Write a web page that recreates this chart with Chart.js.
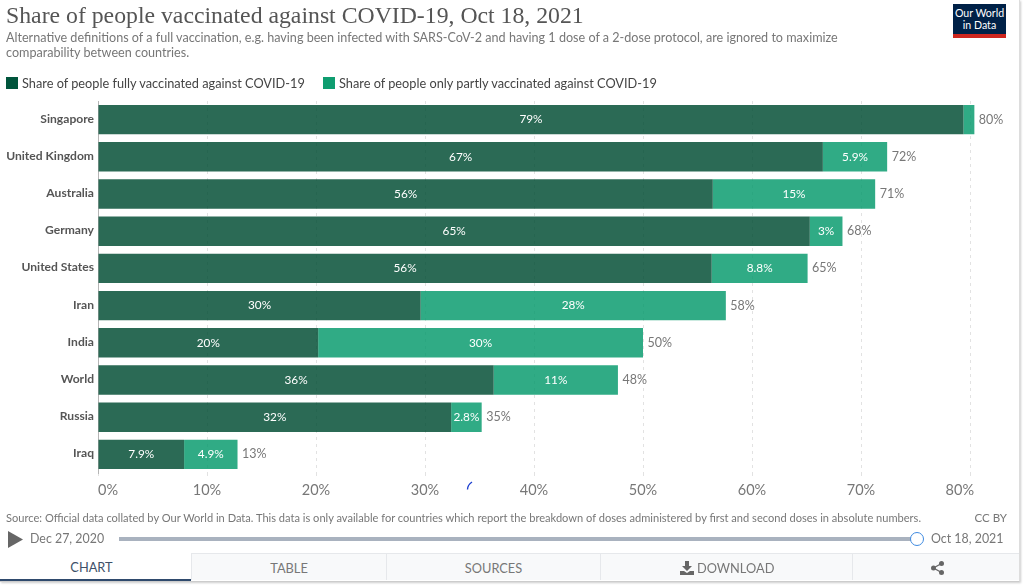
<!DOCTYPE html>
<html>
<head>
<meta charset="utf-8">
<title>Share of people vaccinated against COVID-19</title>
<script src="https://cdn.jsdelivr.net/npm/chart.js@4"></script>
<style>
  html, body { margin: 0; padding: 0; background: #fff; }
  body { width: 1023px; height: 585px; overflow: hidden; position: relative; font-family: Lato, sans-serif; color: #666; }
  #card { position: absolute; left: 0; top: 0; width: 1019px; height: 581px; border-right: 1px solid #ddd; border-bottom: 1px solid #ccc; box-shadow: 1px 1px 2px rgba(0,0,0,.2); }
  canvas { position: absolute; left: 0; top: 0; }
  .txt { position: absolute; white-space: nowrap; }
  #title { left: 6px; top: 0; font: 23.75px/30px "Liberation Serif", serif; color: #555; }
  #subtitle { left: 6px; top: 30px; font-size: 12.6px; line-height: 15px; color: #777; }
  #logo { position: absolute; left: 953px; top: 4px; width: 53px; height: 27px; padding-top: 3px; background: #002147; border-bottom: 4px solid #ce261e; color: #fff; font-size: 10.6px; line-height: 12px; text-align: center; white-space: nowrap; }
  #legend { position: absolute; left: 6px; top: 75px; font-size: 12.75px; line-height: 16px; color: #444; }
  #legend span { position: absolute; top: 0; white-space: nowrap; }
  #legend i { position: absolute; top: 1.5px; width: 12px; height: 12px; }
  #source { left: 6px; top: 511px; font-size: 11.08px; line-height: 14px; color: #777; }
  #ccby { right: 16px; top: 511px; font-size: 11.5px; line-height: 14px; color: #777; }
  #start { left: 30px; top: 531px; font-size: 12.4px; line-height: 16px; color: #777; }
  #end { left: 931px; top: 531px; font-size: 12.4px; line-height: 16px; color: #777; }
  #track { position: absolute; left: 119px; top: 537px; width: 798px; height: 4px; background: #a9b2bf; }
  #handle { position: absolute; left: 910px; top: 532px; width: 12px; height: 12px; border: 1.5px solid #3f8ae0; border-radius: 50%; background: #fff; }
  #tabs { position: absolute; left: 0; top: 553px; width: 1019px; height: 28px; }
  #tabs div { position: absolute; top: 0; height: 27px; line-height: 29px; text-align: center; font-size: 12.8px; color: #777; background: #f8f9fa; border-top: 1px solid #e6e8eb; border-left: 1px solid #e6e8eb; box-sizing: border-box; }
  #tabs div.on { background: #fff; color: #3d5068; border: 0; height: 28px; }
  #tabs b { position: absolute; font-weight: normal; top: 0; }
  #underline { position: absolute; left: 0; top: 579px; width: 191px; height: 2px; background: #2f4a6d; }
  svg { position: absolute; }
</style>
</head>
<body>
<div id="card"></div>
<canvas id="chart" width="1023" height="585"></canvas>
<div class="txt" id="title">Share of people vaccinated against COVID-19, Oct 18, 2021</div>
<div class="txt" id="subtitle">Alternative definitions of a full vaccination, e.g. having been infected with SARS-CoV-2 and having 1 dose of a 2-dose protocol, are ignored to maximize<br>comparability between countries.</div>
<div id="logo">Our World<br>in Data</div>
<div id="legend"></div>
<div class="txt" id="source">Source: Official data collated by Our World in Data. This data is only available for countries which report the breakdown of doses administered by first and second doses in absolute numbers.</div>
<div class="txt" id="ccby">CC BY</div>
<svg style="left:8px;top:531px" width="15" height="17"><path d="M0 0 L15 8.5 L0 17 Z" fill="#666"/></svg>
<div class="txt" id="start">Dec 27, 2020</div>
<div id="track"></div>
<div id="handle"></div>
<div class="txt" id="end">Oct 18, 2021</div>
<svg style="left:465px;top:479px" width="10" height="13"><path d="M2.5 10.500 C2.500 7 4 5 7 3" fill="none" stroke="#1c3fd0" stroke-width="1.4"/></svg>
<div id="tabs">
  <div class="on" style="left:0;width:183px">CHART</div>
  <div style="left:191px;width:195px">TABLE</div>
  <div style="left:386px;width:214px">SOURCES</div>
  <div style="left:600px;width:252px"><svg style="left:79px;top:7px" width="14" height="14" viewBox="0 0 14 14"><path d="M5 0h4v5h3L7 10 2 5h3zM0 10h4l3 2 3-2h4v4H0z" fill="#666"/></svg><b style="left:96px">DOWNLOAD</b></div>
  <div style="left:852px;width:167px"><svg style="left:78px;top:7px" width="13" height="14" viewBox="0 0 13 14"><circle cx="10.500" cy="2.500" r="2.500" fill="#666"/><circle cx="2.500" cy="7" r="2.500" fill="#666"/><circle cx="10.500" cy="11.500" r="2.500" fill="#666"/><path d="M10.500 2.500L2.500 7l8 4.500" fill="none" stroke="#666" stroke-width="1.300"/></svg></div>
</div>
<div id="underline"></div>

<script>
const countries = ["Singapore", "United Kingdom", "Australia", "Germany", "United States", "Iran", "India", "World", "Russia", "Iraq"];
const fullyVaccinated = [79.4, 66.5, 56.4, 65.3, 56.3, 29.6, 20.2, 36.3, 32.4, 7.9];
const partlyVaccinated = [1.0, 5.9, 14.9, 3.0, 8.8, 28.0, 29.8, 11.4, 2.8, 4.9];
const fullyLabels = ["79%", "67%", "56%", "65%", "56%", "30%", "20%", "36%", "32%", "7.9%"];
const partlyLabels = ["", "5.9%", "15%", "3%", "8.8%", "28%", "30%", "11%", "2.8%", "4.9%"];
const totalLabels = ["80%", "72%", "71%", "68%", "65%", "58%", "50%", "48%", "35%", "13%"];
const xTickValues = [0, 10, 20, 30, 40, 50, 60, 70, 80];
const seriesNames = ["Share of people fully vaccinated against COVID-19", "Share of people only partly vaccinated against COVID-19"];
const legendColors = ["#00553c", "#0f9d70"];
const barColors = ["rgba(0,76,50,.83)", "rgba(6,154,108,.83)"];

// legend
const legend = document.getElementById("legend");
const legendLefts = [0, 317];
seriesNames.forEach((name, i) => {
  legend.innerHTML += `<i style="left:${legendLefts[i]}px;background:${legendColors[i]}"></i><span style="left:${legendLefts[i] + 16}px">${name}</span>`;
});

// text on and after the bars, plus the x labels with their shifted ends
const barText = {
  id: "barText",
  afterDraw(chart) {
    const ctx = chart.ctx;
    const fullBars = chart.getDatasetMeta(0).data;
    const partlyBars = chart.getDatasetMeta(1).data;
    ctx.save();
    ctx.textBaseline = "middle";
    ctx.textAlign = "center";
    ctx.font = "11.8px Lato";
    ctx.fillStyle = "#fff";
    fullBars.forEach((bar, i) => {
      ctx.fillText(fullyLabels[i], (bar.base + bar.x) / 2, bar.y);
    });
    partlyBars.forEach((bar, i) => {
      ctx.fillText(partlyLabels[i], (bar.base + bar.x) / 2, bar.y);
    });
    ctx.textAlign = "left";
    ctx.font = "12.5px Lato";
    ctx.fillStyle = "#777";
    partlyBars.forEach((bar, i) => {
      ctx.fillText(totalLabels[i], bar.x + 4.5, bar.y);
    });

    const xScale = chart.scales.x;
    ctx.font = "14.5px Lato";
    ctx.fillStyle = "#777";
    xScale.ticks.forEach((tick, i) => {
      const px = xScale.getPixelForValue(tick.value);
      ctx.textAlign = i === 0 ? "left" : i === xScale.ticks.length - 1 ? "right" : "center";
      ctx.fillText(tick.label, i === xScale.ticks.length - 1 ? px + 4 : px, 490);
    });
    ctx.restore();
  },
};

new Chart(document.getElementById("chart"), {
  type: "bar",
  data: {
    labels: countries,
    datasets: [
      { label: seriesNames[0], data: fullyVaccinated, backgroundColor: barColors[0] },
      { label: seriesNames[1], data: partlyVaccinated, backgroundColor: barColors[1] },
    ],
  },
  plugins: [barText],
  options: {
    indexAxis: "y",
    responsive: false,
    animation: false,
    categoryPercentage: 1,
    barPercentage: 0.79,
    layout: { padding: { left: 0, top: 101, right: 9.4, bottom: 112 } },
    plugins: { legend: { display: false }, tooltip: { enabled: false } },
    scales: {
      x: {
        stacked: true,
        min: 0,
        max: 84,
        afterBuildTicks: (scale) => { scale.ticks = xTickValues.map((value) => ({ value })); },
        afterFit: (scale) => { scale.height = 0; },
        ticks: { display: false, callback: (v) => v + "%" },
        border: { display: false, dash: [3, 4] },
        grid: { color: "#e2e2e2", lineWidth: 1, drawTicks: true, tickLength: 3 },
      },
      y: {
        stacked: true,
        afterFit: (scale) => { scale.width = 98; },
        border: { display: true, color: "#b5b5b5", width: 1 },
        grid: { display: false, drawTicks: false },
        ticks: { padding: 4, labelOffset: -1, color: "#555", font: { family: "Lato", size: 12.1, weight: "bold" } },
      },
    },
  },
});
</script>
</body>
</html>
